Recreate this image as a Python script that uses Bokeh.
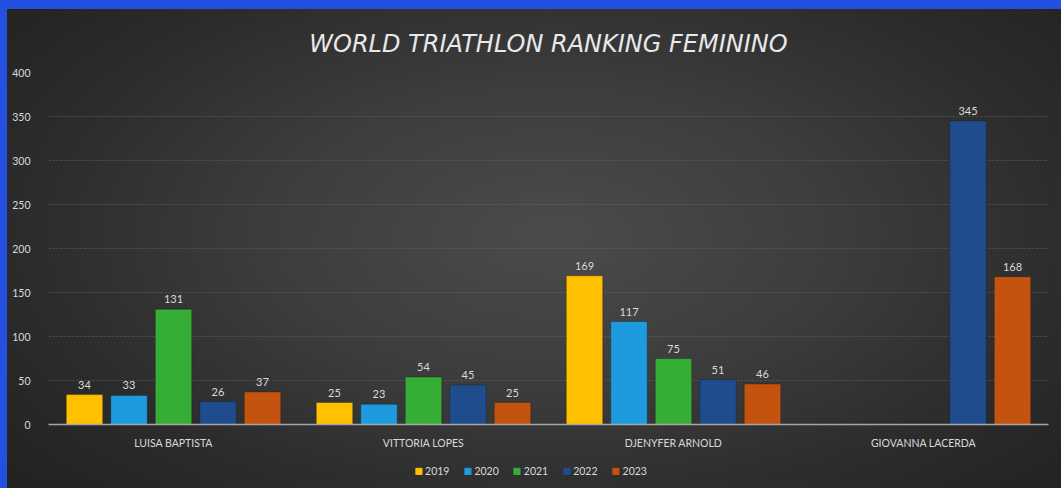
import math
from bokeh.plotting import figure
from bokeh.layouts import column
from bokeh.models import ColumnDataSource, Legend, LegendItem, Title, FixedTicker, Range1d
from bokeh.transform import dodge
from bokeh.core.properties import value
from bokeh.embed import file_html
from bokeh.resources import INLINE

athletes = ["LUISA BAPTISTA", "VITTORIA LOPES", "DJENYFER ARNOLD", "GIOVANNA LACERDA"]
years = ["2019", "2020", "2021", "2022", "2023"]
v2019 = [34, 25, 169, None]
v2020 = [33, 23, 117, None]
v2021 = [131, 54, 75, None]
v2022 = [26, 45, 51, 345]
v2023 = [37, 25, 46, 168]
series = [v2019, v2020, v2021, v2022, v2023]
colors = ["#FFC000", "#1E9BDF", "#36AE36", "#1F4C8C", "#C4530F"]
y_ticks = [0, 50, 100, 150, 200, 250, 300, 350, 400]

FONT = "Lato"
LABEL_COLOR = "#d9d9d9"

p = figure(x_range=athletes, y_range=Range1d(0, 400),
           frame_width=1000, frame_height=352,
           output_backend="svg", toolbar_location=None,
           min_border_left=48, min_border_right=12, min_border_top=72, min_border_bottom=32)
p.background_fill_color = None
p.border_fill_color = None
p.outline_line_color = None

offsets = [-0.356, -0.178, 0.0, 0.178, 0.356]
for yr, vals, col, off in zip(years, series, colors, offsets):
    xs = [a for a, v in zip(athletes, vals) if v is not None]
    ys = [v for v in vals if v is not None]
    src = ColumnDataSource(dict(x=xs, top=ys, lab=[str(v) for v in ys]))
    p.vbar(x=dodge("x", off, range=p.x_range), top="top", width=0.146, source=src,
           fill_color=col, line_color="#1a1a1a", line_alpha=0.35)
    p.text(x=dodge("x", off, range=p.x_range), y="top", text="lab", source=src,
           text_align="center", text_baseline="bottom", y_offset=-6,
           text_color=LABEL_COLOR, text_font=value(FONT), text_font_size="11px")

# axes
p.yaxis.ticker = FixedTicker(ticks=y_ticks)
p.yaxis.axis_line_color = None
p.yaxis.major_tick_line_color = None
p.yaxis.minor_tick_line_color = None
p.yaxis.major_label_text_color = LABEL_COLOR
p.yaxis.major_label_text_font = FONT
p.yaxis.major_label_text_font_size = "10.5px"
p.yaxis.major_label_standoff = 12

p.xaxis.axis_line_color = "#a6a6a6"
p.xaxis.axis_line_width = 1.5
p.xaxis.major_tick_line_color = None
p.xaxis.minor_tick_line_color = None
p.xaxis.major_tick_out = 0
p.xaxis.major_label_text_color = LABEL_COLOR
p.xaxis.major_label_text_font = FONT
p.xaxis.major_label_text_font_size = "10.5px"
p.xaxis.major_label_standoff = 12

p.xgrid.grid_line_color = None
p.ygrid.grid_line_color = "#6a6a6a"
p.ygrid.grid_line_dash = "2 2"
p.ygrid.grid_line_alpha = 0.6

p.add_layout(Title(text="WORLD TRIATHLON RANKING FEMININO", align="center",
                   text_font="DejaVu Sans", text_font_style="italic", text_font_size="24px",
                   text_color="#e8e8e8", standoff=30), "above")

# legend strip below the chart
leg = figure(x_range=Range1d(0, 1), y_range=Range1d(0, 1), frame_width=1061, frame_height=30,
             output_backend="svg", toolbar_location=None,
             min_border_left=0, min_border_right=0, min_border_top=0, min_border_bottom=0)
leg.axis.visible = False
leg.grid.visible = False
leg.background_fill_color = None
leg.border_fill_color = None
leg.outline_line_color = None
items = []
for yr, col in zip(years, colors):
    # a proxy bar placed outside the visible range, used only for the legend swatch
    r = leg.vbar(x=[5], top=[-5], bottom=[-6], width=0.1, fill_color=col, line_color=col)
    items.append(LegendItem(label=yr, renderers=[r]))
legend = Legend(items=items, orientation="horizontal", location="center",
                background_fill_alpha=0, border_line_color=None,
                glyph_width=8, glyph_height=8, label_standoff=3, spacing=14,
                label_text_color=LABEL_COLOR, label_text_font=FONT,
                label_text_font_size="10.5px", padding=0, margin=0,
                label_height=12)
leg.add_layout(legend, "center")

layout = column(p, leg, spacing=0)

html = file_html(layout, INLINE)
css = ("<style>html{background-color:#2a2a2a;"
       "background-image:linear-gradient(to right,#2350e0 7px,transparent 7px),"
       "linear-gradient(to bottom,#2350e0 9px,transparent 9px),"
       "radial-gradient(ellipse 65% 75% at 52% 48%,#4b4b4b 0%,#3d3d3d 40%,#2c2c2c 75%,#232323 100%);"
       "background-repeat:no-repeat;min-height:100%;}"
       "body{background:transparent;}</style>")
html = html.replace("</head>", css + "</head>", 1)
open("out.html", "w").write(html)
